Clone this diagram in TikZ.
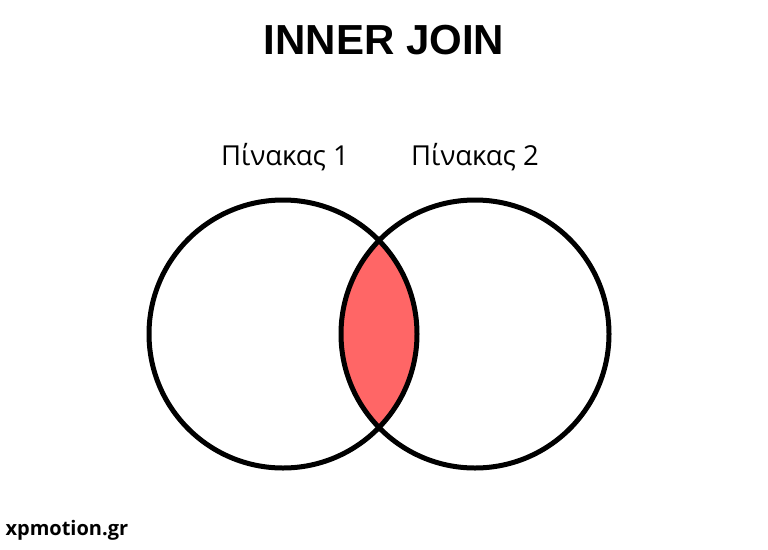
\documentclass[tikz,border=0pt]{standalone}
\usepackage{fontspec}
\setmainfont{Open Sans}
\newfontfamily\titlefont{Liberation Sans}
\definecolor{redfill}{HTML}{FF6666}
\begin{document}
\begin{tikzpicture}[x=1pt,y=-1pt,
  circ/.style={line width=5pt,draw=black},
  lbl/.style={font=\fontsize{27.5}{30}\selectfont}]
\useasboundingbox[fill=white] (0,0) rectangle (768,549);
\begin{scope}
\clip (283,334) circle (134);
\fill[redfill] (475,334) circle (134);
\end{scope}
\draw[circ] (283,334) circle (134);
\draw[circ] (475,334) circle (134);
\node[font=\titlefont\bfseries\fontsize{42}{46}\selectfont] (title) at (384,40) {INNER JOIN};
\node[lbl] (t1) at (285,157) {Πίνακας 1};
\node[lbl] (t2) at (475,157) {Πίνακας 2};
\node[font=\bfseries\fontsize{20}{22}\selectfont,anchor=west] (foot) at (2,530) {xpmotion.gr};
\end{tikzpicture}
\end{document}
